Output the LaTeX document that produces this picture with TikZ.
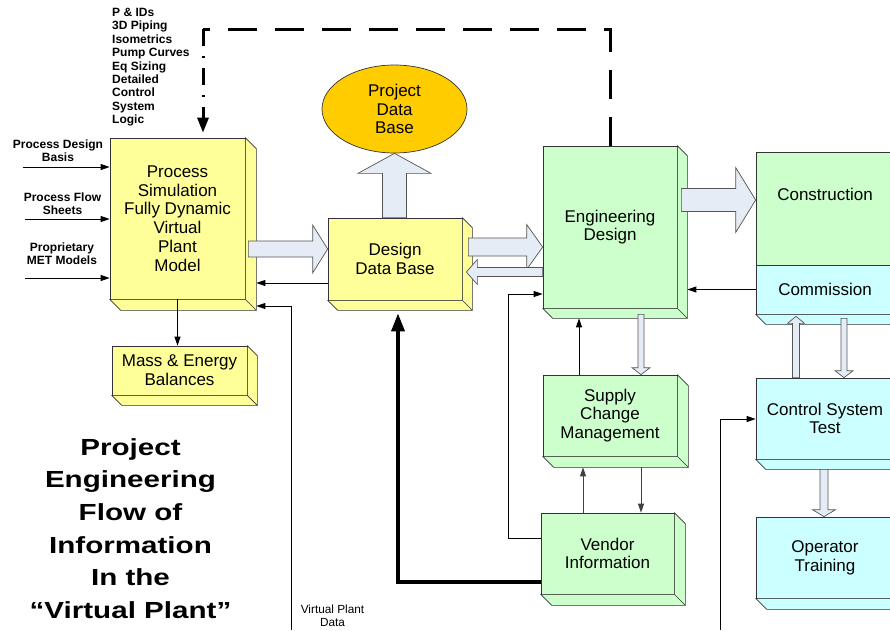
\documentclass[tikz,border=0pt]{standalone}
\usepackage{fontspec}
\setmainfont{Liberation Sans}
\newfontfamily\titlefont[FakeStretch=1.27]{Liberation Sans}
\usetikzlibrary{arrows.meta,calc,shapes.geometric}
\definecolor{ybox}{HTML}{FFFF99}
\definecolor{gbox}{HTML}{CCFFCC}
\definecolor{cbox}{HTML}{CCFFFF}
\definecolor{odb}{HTML}{FFCC00}
\definecolor{bfill}{HTML}{E6ECF6}
\definecolor{edge}{HTML}{333333}
\definecolor{bedge}{HTML}{555555}
\newcommand\boxfont{\fontsize{17pt}{18.8pt}\selectfont}
\newcommand\smallbold{\fontsize{12pt}{13pt}\selectfont\bfseries}
\newcommand\listfont{\fontsize{12pt}{13.4pt}\selectfont\bfseries}
\newcommand\vpdfont{\fontsize{11.8pt}{13.5pt}\selectfont}
\newcommand\titlefnt{\titlefont\fontsize{23.3pt}{32.6pt}\selectfont\bfseries}
% depth faces of a 3D box
\newcommand\depthfaces[3]{%
  \filldraw[draw=edge, fill=#3, line width=0.7pt, line join=round]
    (#1.north east) -- ++(#2,#2) -- ($(#1.south east)+(#2,#2)$) -- ($(#1.south west)+(#2,#2)$)
    -- (#1.south west) -- (#1.south east) -- cycle;
  \draw[draw=edge, line width=0.7pt] (#1.south east) -- ++(#2,#2);}
% block arrows: #1 start, #2 tip, #3 half body, #4 half head, #5 head length
\newcommand\rblock[5]{\filldraw[blockarrow] let \p1=#1,\p2=#2 in
  (\x1,\y2+#3) -- (\x2-#5,\y2+#3) -- (\x2-#5,\y2+#4) -- (\x2,\y2) -- (\x2-#5,\y2-#4) -- (\x2-#5,\y2-#3) -- (\x1,\y2-#3) -- cycle;}
\newcommand\lblock[5]{\filldraw[blockarrow] let \p1=#1,\p2=#2 in
  (\x1,\y2+#3) -- (\x2+#5,\y2+#3) -- (\x2+#5,\y2+#4) -- (\x2,\y2) -- (\x2+#5,\y2-#4) -- (\x2+#5,\y2-#3) -- (\x1,\y2-#3) -- cycle;}
\newcommand\ublock[5]{\filldraw[blockarrow] let \p1=#1,\p2=#2 in
  (\x2+#3,\y1) -- (\x2+#3,\y2-#5) -- (\x2+#4,\y2-#5) -- (\x2,\y2) -- (\x2-#4,\y2-#5) -- (\x2-#3,\y2-#5) -- (\x2-#3,\y1) -- cycle;}
\newcommand\dblock[5]{\filldraw[blockarrow] let \p1=#1,\p2=#2 in
  (\x2+#3,\y1) -- (\x2+#3,\y2+#5) -- (\x2+#4,\y2+#5) -- (\x2,\y2) -- (\x2-#4,\y2+#5) -- (\x2-#3,\y2+#5) -- (\x2-#3,\y1) -- cycle;}
\begin{document}
\begin{tikzpicture}[x=1pt,y=-1pt,
  box/.style={draw=edge, line width=0.7pt, rectangle, inner sep=0pt, align=center, font=\boxfont},
  blockarrow/.style={draw=bedge, fill=bfill, line width=0.7pt, line join=miter},
  thinarr/.style={line width=0.9pt, -{Triangle[length=9pt,width=6pt]}},
  grayarr/.style={thinarr, draw=black!75, -{Triangle[length=9pt,width=6pt,fill=black!75]}},
  thickarr/.style={line width=3.5pt, -{Triangle[length=18pt,width=13pt]}},
  bigdash/.style={line width=3pt, dash pattern=on 29pt off 18pt},
  dashdotline/.style={line width=3pt, dash pattern=on 17pt off 10pt on 2pt off 10pt, -{Triangle[length=15pt,width=11pt]}},
  lblsmall/.style={align=center, inner sep=0pt, font=\smallbold}]
\useasboundingbox (0,0) rectangle (890,630);
\clip (0,0) rectangle (890,630);
\fill[white] (0,0) rectangle (890,630);

% ---------- boxes ----------
\node[box, fill=ybox, minimum width=135pt, minimum height=161pt] (ps) at (177.5,218.5)
  {Process\\Simulation\\Fully Dynamic\\Virtual\\Plant\\Model};
\depthfaces{ps}{11}{ybox}
\node[box, fill=ybox, minimum width=135pt, minimum height=49pt] (meb) at (179.5,370.5)
  {Mass \& Energy\\Balances};
\depthfaces{meb}{10}{ybox}
\node[box, fill=ybox, minimum width=134pt, minimum height=82pt] (ddb) at (395,259)
  {Design\\Data Base};
\depthfaces{ddb}{10}{ybox}
\node[ellipse, draw=edge, line width=0.7pt, fill=odb, minimum width=145pt, minimum height=88pt,
  inner sep=0pt, align=center, font=\boxfont] (pdb) at (394.5,109) {Project\\Data\\Base};
\node[box, fill=gbox, minimum width=134pt, minimum height=162pt] (eng) at (610,227)
  {Engineering\\Design};
\depthfaces{eng}{10}{gbox}
\node[box, fill=gbox, minimum width=134pt, minimum height=81pt] (scm) at (610,415.5)
  {Supply\\Change\\Management};
\depthfaces{scm}{11}{gbox}
\node[box, fill=gbox, minimum width=133pt, minimum height=81pt] (ven) at (607.5,553.5)
  {Vendor\\Information};
\depthfaces{ven}{11}{gbox}
\node[box, fill=gbox, minimum width=138pt, minimum height=113pt] (con) at (825,208.5) {};
\node[font=\boxfont, inner sep=0pt] (contxt) at (825,194.5) {Construction};
\node[box, fill=cbox, minimum width=138pt, minimum height=49pt] (com) at (825,289.5) {Commission};
\depthfaces{com}{10}{cbox}
\node[box, fill=cbox, minimum width=138pt, minimum height=81pt] (cst) at (825,418.5)
  {Control System\\Test};
\depthfaces{cst}{10}{cbox}
\node[box, fill=cbox, minimum width=138pt, minimum height=81pt] (opt) at (825,557.5)
  {Operator\\Training};
\depthfaces{opt}{11}{cbox}

% ---------- texts ----------
\node[lblsmall, anchor=north] (lpd) at (58,139.4) {Process Design\\Basis};
\node[lblsmall, anchor=north] (lpf) at (62.5,192.3) {Process Flow\\Sheets};
\node[lblsmall, anchor=north] (lpm) at (62,242.3) {Proprietary\\MET Models};
\node[anchor=north west, align=left, inner sep=0pt, font=\listfont] (tl) at (112,8)
  {P \& IDs\\3D Piping\\Isometrics\\Pump Curves\\Eq Sizing\\Detailed\\Control\\System\\Logic};
\node[anchor=north, align=center, inner sep=0pt, font=\titlefnt] (ttl) at (130.5,438.3)
  {Project\\Engineering\\Flow of\\Information\\In the\\“Virtual Plant”};
\node[anchor=north, align=center, inner sep=0pt, font=\vpdfont] (vpd) at (332.5,604.4)
  {Virtual Plant\\Data};

% ---------- helper coordinates ----------
\coordinate (psR) at ($(ps.east)+(11,0)$);
\coordinate (engR) at ($(eng.east)+(10,0)$);
\coordinate (engB) at ($(eng.south)+(0,10)$);
\coordinate (scmB) at ($(scm.south)+(0,11)$);
\coordinate (ddbB) at ($(ddb.south)+(0,10)$);
\coordinate (i1) at (23,167);
\coordinate (i2) at (25,219);
\coordinate (i3) at (25,278);
\coordinate (y200) at (0,200);
\coordinate (y247) at (0,247);
\coordinate (y249) at (0,249);
\coordinate (y272) at (0,272);
\coordinate (y283) at (0,283);
\coordinate (y294) at (0,294);
\coordinate (y419) at (0,419);
\coordinate (y538) at (0,538);
\coordinate (thk) at (398,582);
\coordinate (vp0) at (291,630);
\coordinate (vp1) at (291,306);
\coordinate (xl) at (508,0);
\coordinate (x579) at (579,0);
\coordinate (x583) at (583,0);
\coordinate (x641) at (641,0);
\coordinate (x720) at (720,630);
\coordinate (x796) at (796,0);
\coordinate (x844) at (844,0);
\coordinate (x824) at (824,0);
\coordinate (dtr) at (610,29);
\coordinate (dtl) at (203,29);

% ---------- block arrows ----------
\rblock{($(ps.east|-y249)+(3,0)$)}{(ddb.west|-y249)}{8pt}{24pt}{15pt}
\rblock{($(ddb.east|-y247)+(6,0)$)}{(eng.west|-y247)}{9pt}{22.5pt}{16pt}
\lblock{(eng.west|-y272)}{($(ddb.east|-y272)+(4,0)$)}{4.5pt}{12.5pt}{11pt}
\ublock{(ddb.north)}{(pdb.south)}{12pt}{36.5pt}{20pt}
\rblock{($(eng.east|-y200)+(4,0)$)}{(con.west|-y200)}{11.5pt}{32.5pt}{20pt}
\dblock{($(x641|-eng.south)+(0,6)$)}{(x641|-scm.north)}{3pt}{9pt}{7pt}
\ublock{(x796|-cst.north)}{($(x796|-com.south)+(0,2)$)}{3.5pt}{8.5pt}{7pt}
\dblock{($(x844|-com.south)+(0,4)$)}{(x844|-cst.north)}{3pt}{9pt}{7pt}
\dblock{($(x824|-cst.south)+(0,10)$)}{(x824|-opt.north)}{4pt}{11.5pt}{7pt}

% ---------- connectors ----------
\draw[thinarr] (i1) -- (i1 -| ps.west);
\draw[thinarr] (i2) -- (i2 -| ps.west);
\draw[thinarr] (i3) -- (i3 -| ps.west);
\draw[thinarr] (ps.south) -- (ps.south |- meb.north);
\draw[thinarr] (ddb.west |- y283) -- (psR |- y283);
\draw[thinarr] (vp0) -- (vp1) -- (vp1 -| psR);
\draw[thinarr] (com.west) -- (com.west -| engR);
\draw[thinarr] (x579 |- scm.north) -- (x579 |- engB);
\draw[grayarr] (x583 |- ven.north) -- (x583 |- scmB);
\draw[grayarr] (x641 |- scmB) -- (x641 |- ven.north);
\draw[thinarr] (ven.west |- y538) -- (xl |- y538) -- (xl |- y294) -- (eng.west |- y294);
\draw[thickarr, shorten >=3pt] (ven.west |- thk) -- (thk) -- (thk |- ddbB);
\draw[thinarr] (x720) -- (x720 |- y419) -- (cst.west |- y419);
\draw[bigdash] (eng.north) -- (dtr) -- (dtl);
\draw[dashdotline, shorten >=5pt] (dtl) -- (dtl |- ps.north);
\end{tikzpicture}
\end{document}
